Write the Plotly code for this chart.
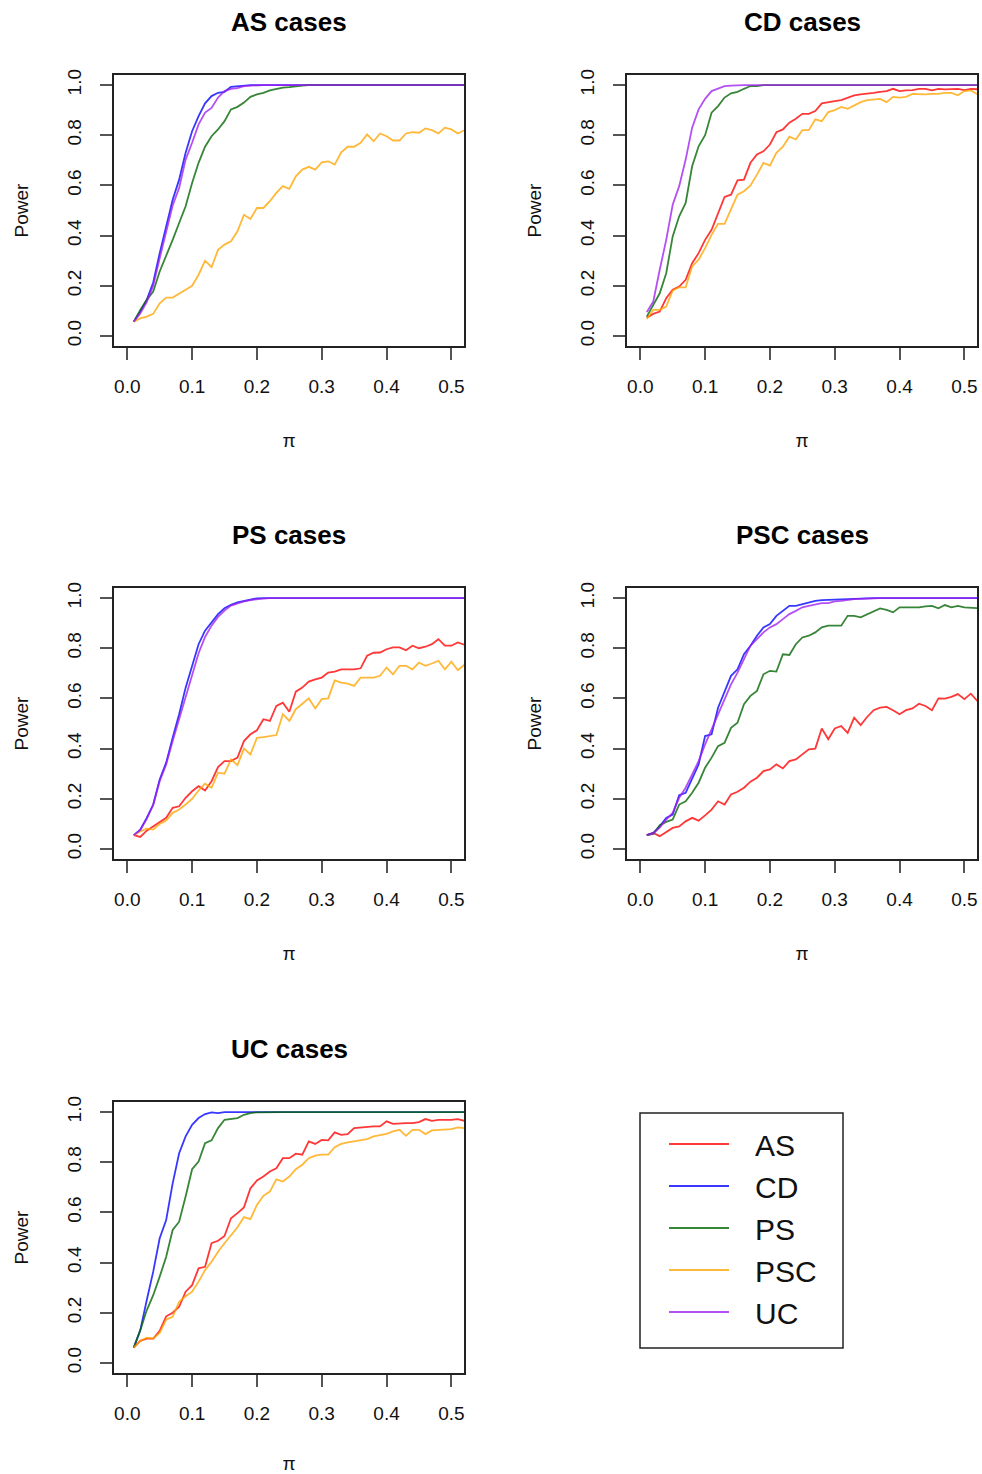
import plotly.graph_objects as go

# pi values evaluated in the simulation (0.01 .. 0.52)
PI = [round(0.01 * k, 2) for k in range(1, 53)]

METHODS = ["AS", "CD", "PS", "PSC", "UC"]
COLORS = {"AS": "#FF0000", "CD": "#0000FF", "PS": "#006400",
          "PSC": "#FFA500", "UC": "#A020F0"}

# ---- AS cases ----
AS_CD = [0.057, 0.097, 0.144, 0.213, 0.330, 0.437, 0.543, 0.623, 0.730, 0.816,
         0.876, 0.927, 0.956, 0.969, 0.973, 0.993, 0.996, 0.999, 1.000, 1.000,
         1.000, 1.000, 1.000, 1.000, 1.000, 1.000, 1.000, 1.000, 1.000, 1.000,
         1.000, 1.000, 1.000, 1.000, 1.000, 1.000, 1.000, 1.000, 1.000, 1.000,
         1.000, 1.000, 1.000, 1.000, 1.000, 1.000, 1.000, 1.000, 1.000, 1.000,
         1.000, 1.000]
AS_PS = [0.057, 0.104, 0.144, 0.177, 0.257, 0.317, 0.383, 0.450, 0.517, 0.610,
         0.690, 0.754, 0.796, 0.823, 0.856, 0.903, 0.913, 0.930, 0.953, 0.963,
         0.969, 0.979, 0.985, 0.990, 0.992, 0.996, 0.998, 1.000, 1.000, 1.000,
         1.000, 1.000, 1.000, 1.000, 1.000, 1.000, 1.000, 1.000, 1.000, 1.000,
         1.000, 1.000, 1.000, 1.000, 1.000, 1.000, 1.000, 1.000, 1.000, 1.000,
         1.000, 1.000]
AS_PSC = [0.057, 0.070, 0.077, 0.088, 0.130, 0.153, 0.153, 0.170, 0.184, 0.200,
          0.244, 0.300, 0.274, 0.343, 0.364, 0.377, 0.417, 0.483, 0.466, 0.510,
          0.510, 0.537, 0.570, 0.597, 0.586, 0.636, 0.663, 0.674, 0.663, 0.692,
          0.696, 0.683, 0.732, 0.754, 0.754, 0.770, 0.803, 0.776, 0.807, 0.796,
          0.779, 0.779, 0.807, 0.812, 0.810, 0.827, 0.820, 0.807, 0.830, 0.823,
          0.807, 0.820]
AS_UC = [0.057, 0.090, 0.135, 0.200, 0.310, 0.420, 0.520, 0.590, 0.703, 0.770,
         0.843, 0.890, 0.909, 0.950, 0.976, 0.985, 0.988, 0.996, 0.998, 1.000,
         1.000, 1.000, 1.000, 1.000, 1.000, 1.000, 1.000, 1.000, 1.000, 1.000,
         1.000, 1.000, 1.000, 1.000, 1.000, 1.000, 1.000, 1.000, 1.000, 1.000,
         1.000, 1.000, 1.000, 1.000, 1.000, 1.000, 1.000, 1.000, 1.000, 1.000,
         1.000, 1.000]

# ---- CD cases ----
CD_AS = [0.073, 0.088, 0.097, 0.150, 0.184, 0.197, 0.224, 0.290, 0.330, 0.383,
         0.423, 0.490, 0.554, 0.563, 0.620, 0.623, 0.690, 0.723, 0.736, 0.763,
         0.812, 0.823, 0.850, 0.866, 0.885, 0.885, 0.896, 0.927, 0.930, 0.936,
         0.940, 0.950, 0.959, 0.963, 0.965, 0.969, 0.973, 0.976, 0.985, 0.976,
         0.979, 0.980, 0.985, 0.985, 0.979, 0.985, 0.983, 0.985, 0.985, 0.980,
         0.985, 0.983]
CD_PS = [0.077, 0.124, 0.170, 0.250, 0.397, 0.477, 0.530, 0.676, 0.756, 0.800,
         0.890, 0.916, 0.950, 0.967, 0.973, 0.985, 0.996, 0.996, 1.000, 1.000,
         1.000, 1.000, 1.000, 1.000, 1.000, 1.000, 1.000, 1.000, 1.000, 1.000,
         1.000, 1.000, 1.000, 1.000, 1.000, 1.000, 1.000, 1.000, 1.000, 1.000,
         1.000, 1.000, 1.000, 1.000, 1.000, 1.000, 1.000, 1.000, 1.000, 1.000,
         1.000, 1.000]
CD_PSC = [0.068, 0.104, 0.104, 0.117, 0.181, 0.194, 0.194, 0.277, 0.304, 0.350,
          0.403, 0.447, 0.447, 0.506, 0.563, 0.577, 0.600, 0.643, 0.690, 0.679,
          0.730, 0.754, 0.794, 0.783, 0.820, 0.820, 0.863, 0.856, 0.892, 0.900,
          0.913, 0.905, 0.919, 0.932, 0.940, 0.943, 0.945, 0.932, 0.953, 0.950,
          0.953, 0.965, 0.963, 0.963, 0.965, 0.965, 0.969, 0.969, 0.959, 0.976,
          0.979, 0.963]
CD_UC = [0.095, 0.137, 0.264, 0.383, 0.523, 0.597, 0.703, 0.830, 0.903, 0.945,
         0.976, 0.985, 0.996, 0.998, 1.000, 1.000, 1.000, 1.000, 1.000, 1.000,
         1.000, 1.000, 1.000, 1.000, 1.000, 1.000, 1.000, 1.000, 1.000, 1.000,
         1.000, 1.000, 1.000, 1.000, 1.000, 1.000, 1.000, 1.000, 1.000, 1.000,
         1.000, 1.000, 1.000, 1.000, 1.000, 1.000, 1.000, 1.000, 1.000, 1.000,
         1.000, 1.000]

# ---- PS cases ----
PS_AS = [0.055, 0.048, 0.073, 0.090, 0.110, 0.124, 0.164, 0.170, 0.204, 0.230,
         0.250, 0.233, 0.270, 0.326, 0.350, 0.350, 0.364, 0.430, 0.457, 0.473,
         0.517, 0.510, 0.570, 0.583, 0.547, 0.627, 0.643, 0.667, 0.676, 0.683,
         0.703, 0.707, 0.716, 0.716, 0.716, 0.720, 0.770, 0.782, 0.783, 0.796,
         0.803, 0.803, 0.792, 0.810, 0.800, 0.806, 0.816, 0.836, 0.810, 0.810,
         0.823, 0.814]
PS_CD = [0.055, 0.077, 0.124, 0.177, 0.277, 0.344, 0.443, 0.537, 0.643, 0.730,
         0.816, 0.870, 0.903, 0.936, 0.959, 0.973, 0.983, 0.989, 0.995, 0.999,
         1.000, 1.000, 1.000, 1.000, 1.000, 1.000, 1.000, 1.000, 1.000, 1.000,
         1.000, 1.000, 1.000, 1.000, 1.000, 1.000, 1.000, 1.000, 1.000, 1.000,
         1.000, 1.000, 1.000, 1.000, 1.000, 1.000, 1.000, 1.000, 1.000, 1.000,
         1.000, 1.000]
PS_PSC = [0.055, 0.070, 0.081, 0.077, 0.100, 0.113, 0.144, 0.157, 0.177, 0.200,
          0.233, 0.260, 0.244, 0.304, 0.300, 0.357, 0.334, 0.400, 0.377, 0.443,
          0.446, 0.449, 0.454, 0.537, 0.510, 0.557, 0.577, 0.600, 0.560, 0.597,
          0.600, 0.672, 0.663, 0.659, 0.650, 0.683, 0.683, 0.683, 0.690, 0.723,
          0.696, 0.730, 0.730, 0.716, 0.743, 0.730, 0.739, 0.750, 0.716, 0.746,
          0.712, 0.734]
PS_UC = [0.055, 0.075, 0.120, 0.175, 0.270, 0.337, 0.430, 0.520, 0.610, 0.690,
         0.780, 0.845, 0.890, 0.925, 0.950, 0.970, 0.980, 0.987, 0.992, 0.996,
         0.998, 1.000, 1.000, 1.000, 1.000, 1.000, 1.000, 1.000, 1.000, 1.000,
         1.000, 1.000, 1.000, 1.000, 1.000, 1.000, 1.000, 1.000, 1.000, 1.000,
         1.000, 1.000, 1.000, 1.000, 1.000, 1.000, 1.000, 1.000, 1.000, 1.000,
         1.000, 1.000]

# ---- PSC cases ----
PSC_AS = [0.055, 0.064, 0.051, 0.068, 0.084, 0.090, 0.110, 0.124, 0.113, 0.134,
          0.157, 0.190, 0.177, 0.217, 0.228, 0.244, 0.268, 0.284, 0.310, 0.317,
          0.337, 0.321, 0.350, 0.357, 0.377, 0.397, 0.400, 0.480, 0.437, 0.480,
          0.490, 0.463, 0.523, 0.494, 0.526, 0.553, 0.563, 0.566, 0.553, 0.537,
          0.553, 0.560, 0.579, 0.570, 0.553, 0.600, 0.599, 0.606, 0.617, 0.597,
          0.619, 0.590]
PSC_CD = [0.055, 0.064, 0.090, 0.124, 0.137, 0.214, 0.224, 0.284, 0.337, 0.450,
          0.457, 0.563, 0.630, 0.690, 0.716, 0.776, 0.810, 0.850, 0.883, 0.896,
          0.929, 0.949, 0.969, 0.969, 0.976, 0.983, 0.989, 0.992, 0.993, 0.996,
          0.997, 0.999, 1.000, 1.000, 1.000, 1.000, 1.000, 1.000, 1.000, 1.000,
          1.000, 1.000, 1.000, 1.000, 1.000, 1.000, 1.000, 1.000, 1.000, 1.000,
          1.000, 1.000]
PSC_PS = [0.055, 0.060, 0.095, 0.108, 0.117, 0.177, 0.190, 0.224, 0.264, 0.324,
          0.364, 0.410, 0.423, 0.483, 0.503, 0.577, 0.610, 0.630, 0.696, 0.710,
          0.707, 0.776, 0.773, 0.816, 0.843, 0.850, 0.863, 0.883, 0.890, 0.890,
          0.890, 0.929, 0.929, 0.923, 0.936, 0.947, 0.959, 0.953, 0.943, 0.963,
          0.963, 0.960, 0.963, 0.967, 0.969, 0.959, 0.972, 0.963, 0.969, 0.963,
          0.963, 0.960]
PSC_UC = [0.055, 0.062, 0.085, 0.117, 0.144, 0.204, 0.244, 0.297, 0.350, 0.417,
          0.477, 0.537, 0.603, 0.656, 0.703, 0.756, 0.810, 0.836, 0.863, 0.883,
          0.896, 0.916, 0.936, 0.949, 0.963, 0.969, 0.976, 0.980, 0.980, 0.987,
          0.989, 0.993, 0.996, 0.997, 0.999, 1.000, 1.000, 1.000, 1.000, 1.000,
          1.000, 1.000, 1.000, 1.000, 1.000, 1.000, 1.000, 1.000, 1.000, 1.000,
          1.000, 1.000]

# ---- UC cases ----
UC_AS = [0.061, 0.088, 0.097, 0.097, 0.128, 0.186, 0.200, 0.224, 0.284, 0.310,
         0.377, 0.383, 0.477, 0.487, 0.506, 0.577, 0.597, 0.620, 0.696, 0.727,
         0.743, 0.763, 0.776, 0.816, 0.816, 0.834, 0.830, 0.883, 0.873, 0.889,
         0.887, 0.919, 0.909, 0.912, 0.936, 0.939, 0.940, 0.943, 0.943, 0.963,
         0.953, 0.956, 0.956, 0.956, 0.960, 0.972, 0.965, 0.969, 0.969, 0.969,
         0.972, 0.965]
UC_CD = [0.061, 0.130, 0.250, 0.364, 0.497, 0.570, 0.716, 0.836, 0.903, 0.949,
         0.976, 0.992, 0.999, 0.996, 1.000, 1.000, 1.000, 1.000, 1.000, 1.000,
         1.000, 1.000, 1.000, 1.000, 1.000, 1.000, 1.000, 1.000, 1.000, 1.000,
         1.000, 1.000, 1.000, 1.000, 1.000, 1.000, 1.000, 1.000, 1.000, 1.000,
         1.000, 1.000, 1.000, 1.000, 1.000, 1.000, 1.000, 1.000, 1.000, 1.000,
         1.000, 1.000]
UC_PS = [0.061, 0.130, 0.210, 0.270, 0.344, 0.423, 0.530, 0.563, 0.663, 0.772,
         0.803, 0.876, 0.887, 0.936, 0.969, 0.972, 0.976, 0.989, 0.996, 0.999,
         1.000, 1.000, 1.000, 1.000, 1.000, 1.000, 1.000, 1.000, 1.000, 1.000,
         1.000, 1.000, 1.000, 1.000, 1.000, 1.000, 1.000, 1.000, 1.000, 1.000,
         1.000, 1.000, 1.000, 1.000, 1.000, 1.000, 1.000, 1.000, 1.000, 1.000,
         1.000, 1.000]
UC_PSC = [0.061, 0.088, 0.101, 0.097, 0.120, 0.173, 0.184, 0.244, 0.266, 0.284,
          0.324, 0.370, 0.403, 0.443, 0.477, 0.510, 0.541, 0.581, 0.573, 0.630,
          0.666, 0.683, 0.732, 0.723, 0.743, 0.772, 0.790, 0.816, 0.826, 0.830,
          0.830, 0.860, 0.873, 0.879, 0.883, 0.887, 0.892, 0.903, 0.909, 0.913,
          0.923, 0.929, 0.905, 0.929, 0.929, 0.912, 0.927, 0.929, 0.932, 0.932,
          0.939, 0.936]

PANEL_TITLES = ["AS cases", "CD cases", "PS cases", "PSC cases", "UC cases"]
PANEL_SERIES = [
    {"CD": AS_CD, "PS": AS_PS, "PSC": AS_PSC, "UC": AS_UC},
    {"AS": CD_AS, "PS": CD_PS, "PSC": CD_PSC, "UC": CD_UC},
    {"AS": PS_AS, "CD": PS_CD, "PSC": PS_PSC, "UC": PS_UC},
    {"AS": PSC_AS, "CD": PSC_CD, "PS": PSC_PS, "UC": PSC_UC},
    {"AS": UC_AS, "CD": UC_CD, "PS": UC_PS, "PSC": UC_PSC},
]

X_TICKS = [0.0, 0.1, 0.2, 0.3, 0.4, 0.5]
Y_TICKS = [0.0, 0.2, 0.4, 0.6, 0.8, 1.0]

W, H = 982, 1474
FONT = "Liberation Sans, Arial, Helvetica, sans-serif"

# plot-box pixel geometry (left, right) per column and (top, bottom) per row
COLS = [(114, 464), (627, 977)]
ROWS = [(75, 346), (588, 859), (1102, 1373)]
# legend frame (left, top, right, bottom)
LEG_BOX = (640, 1113, 843, 1348)


def fx(px):
    return px / W


def fy(py):
    return 1 - py / H


fig = go.Figure()
seen = set()
annotations = []
layout_axes = {}

for i, (title, series) in enumerate(zip(PANEL_TITLES, PANEL_SERIES)):
    n = i + 1
    col, row = i % 2, i // 2
    x0, x1 = COLS[col]
    y0, y1 = ROWS[row]
    xa, ya = f"x{n}", f"y{n}"

    for m in METHODS:
        if m not in series:
            continue
        fig.add_trace(go.Scatter(
            x=PI, y=series[m], mode="lines",
            name="\u2002\u2009" + m,
            line=dict(color=COLORS[m], width=1.8),
            opacity=0.78,
            xaxis=xa, yaxis=ya,
            legendgroup=m, legendrank=METHODS.index(m) + 1,
            showlegend=m not in seen,
            hoverinfo="skip",
        ))
        seen.add(m)

    axis_common = dict(
        showgrid=False, zeroline=False, automargin=False,
        showline=True, linecolor="#222", linewidth=1.5, mirror=True,
        ticks="outside", ticklen=12, tickwidth=1.5, tickcolor="#555",
        tickfont=dict(family=FONT, size=19, color="#111"),
        fixedrange=True,
    )
    layout_axes[f"xaxis{n}"] = dict(
        axis_common,
        domain=[fx(x0), fx(x1)], anchor=ya,
        range=[-0.0205, 0.5195],
        tickvals=X_TICKS, ticktext=[f"{v:.1f}" for v in X_TICKS],
        ticklabelstandoff=10,
        title=dict(text="π", font=dict(family=FONT, size=19, color="#111"),
                   standoff=38),
    )
    layout_axes[f"yaxis{n}"] = dict(
        axis_common,
        domain=[fy(y1), fy(y0)], anchor=xa,
        range=[-0.04, 1.04],
        tickvals=Y_TICKS, ticktext=[f"{v:.1f}" for v in Y_TICKS],
        tickangle=-90,
        ticklabelstandoff=12,
        title=dict(text="Power", font=dict(family=FONT, size=19, color="#111"),
                   standoff=30),
    )
    annotations.append(dict(
        text=f"<b>{title}</b>", xref="paper", yref="paper",
        x=fx((x0 + x1) / 2), y=fy(y0 - 53), xanchor="center", yanchor="middle",
        showarrow=False, font=dict(family=FONT, size=26, color="#000"),
    ))

fig.update_layout(
    template="none",
    width=W, height=H,
    margin=dict(l=0, r=0, t=0, b=0, autoexpand=False),
    paper_bgcolor="white", plot_bgcolor="white",
    annotations=annotations,
    shapes=[dict(
        type="rect", xref="paper", yref="paper",
        x0=fx(LEG_BOX[0]), x1=fx(LEG_BOX[2]),
        y0=fy(LEG_BOX[3]), y1=fy(LEG_BOX[1]),
        line=dict(color="#222", width=1.5), fillcolor="rgba(0,0,0,0)",
    )],
    showlegend=True,
    legend=dict(
        x=fx(664), y=fy(1118), xanchor="left", yanchor="top",
        borderwidth=0, bgcolor="rgba(0,0,0,0)",
        font=dict(family=FONT, size=30, color="#111"),
        itemwidth=60, tracegroupgap=0,
        traceorder="normal",
    ),
    **layout_axes,
)

fig.write_html("out.html")
